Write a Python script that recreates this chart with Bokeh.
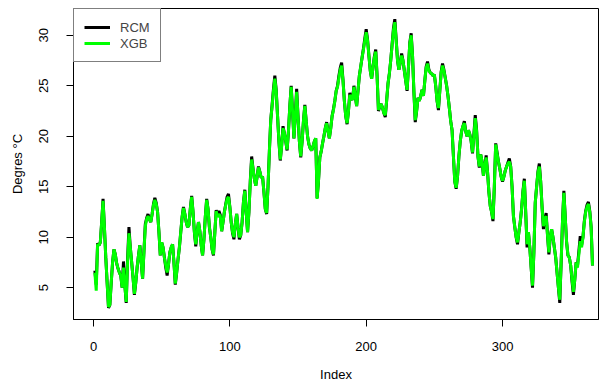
from bokeh.plotting import figure
from bokeh.models import Legend, LegendItem, FixedTicker, Range1d, ColumnDataSource
from bokeh.embed import file_html
from bokeh.resources import INLINE

# ---- data ----
index = list(range(1, 367))

xgb = [
    6.5, 4.7, 9.3, 9.2, 9.5, 11.5, 13.6, 11.0, 8.0, 5.5,
    3.1, 3.3, 5.5, 7.5, 8.8, 8.3, 7.4, 6.9, 6.5, 6.2,
    5.0, 7.0, 5.2, 3.6, 7.5, 10.4, 9.0, 7.5, 6.0, 4.4,
    5.5, 7.0, 8.2, 9.2, 7.5, 5.9, 8.5, 11.1, 11.8, 12.1,
    11.8, 11.5, 12.3, 13.2, 13.7, 13.3, 12.5, 10.5, 8.2, 9.5,
    9.0, 8.0, 7.2, 6.5, 7.3, 8.5, 9.0, 9.3, 7.5, 5.4,
    6.5, 7.8, 9.0, 10.5, 12.0, 12.9, 12.3, 11.5, 11.0, 11.2,
    12.8, 14.0, 12.5, 10.5, 9.3, 10.5, 11.5, 10.6, 9.2, 8.2,
    9.8, 12.0, 13.7, 12.8, 11.0, 10.0, 8.8, 8.3, 10.5, 12.6,
    12.0, 12.3, 12.1, 10.6, 11.5, 12.5, 13.2, 13.8, 14.0, 13.0,
    11.5, 10.5, 10.0, 11.3, 12.3, 11.0, 10.0, 10.2, 11.5, 13.5,
    14.6, 12.5, 10.5, 12.5, 15.5, 17.7, 16.8, 15.8, 15.1, 16.0,
    16.9, 16.5, 15.9, 16.0, 14.5, 12.8, 12.4, 15.0, 18.5, 21.6,
    23.0, 24.5, 25.7, 24.5, 22.0, 19.5, 17.7, 19.0, 20.8, 20.3,
    19.5, 18.7, 20.5, 23.0, 24.9, 22.5, 19.8, 22.0, 24.4, 22.0,
    19.5, 18.0, 19.5, 21.5, 23.0, 21.5, 20.0, 19.2, 18.8, 18.6,
    19.0, 19.5, 19.8, 13.8, 15.5, 17.9, 18.5, 19.3, 20.0, 20.8,
    21.3, 20.5, 19.8, 20.8, 22.0, 22.6, 23.5, 24.5, 24.9, 25.8,
    26.6, 27.0, 25.5, 23.5, 22.0, 21.3, 22.5, 24.1, 23.8, 23.6,
    24.9, 24.0, 23.0, 24.5, 26.0, 26.9, 27.8, 28.6, 29.5, 30.3,
    29.5, 28.0, 26.5, 25.7, 26.8, 27.8, 28.4, 26.0, 22.6, 23.0,
    23.2, 22.8, 22.3, 22.1, 23.5, 25.2, 26.2, 27.5, 29.0, 30.5,
    31.3, 29.5, 27.5, 26.6, 27.3, 28.0, 27.5, 26.5, 25.5, 24.6,
    26.8, 29.2, 30.0, 28.0, 24.5, 21.6, 22.5, 23.8, 23.5, 24.0,
    24.6, 24.0, 25.5, 26.8, 27.2, 26.5, 26.3, 26.2, 26.0, 26.1,
    25.0, 23.5, 22.8, 24.5, 26.3, 27.0, 26.5, 25.8, 25.0, 24.0,
    22.8, 21.5, 20.6, 18.0, 15.5, 14.9, 16.0, 18.0, 19.5, 20.5,
    21.0, 21.3, 20.5, 20.0, 20.6, 20.2, 19.5, 18.4, 20.0, 21.8,
    20.5, 18.0, 17.0, 18.2, 17.5, 16.1, 17.0, 17.9, 16.5, 14.5,
    13.1, 12.5, 11.8, 15.0, 19.2, 18.3, 17.5, 16.8, 16.0, 15.6,
    16.0, 16.6, 17.0, 17.3, 17.5, 17.0, 15.0, 12.1, 11.0, 10.0,
    9.5, 10.5, 11.5, 12.8, 14.5, 15.6, 12.5, 9.3, 10.5, 9.0,
    7.0, 5.2, 8.5, 13.4, 15.0, 16.4, 17.0, 15.5, 13.0, 11.1,
    11.8, 12.1, 10.2, 8.5, 10.0, 10.8, 10.0, 9.0, 8.0, 6.5,
    5.0, 3.8, 7.5, 11.5, 14.4, 12.0, 9.5, 8.2, 8.0, 7.2,
    5.8, 4.6, 5.8, 7.5, 7.0, 8.3, 9.6, 9.0, 10.0, 11.5,
    12.5, 13.0, 13.3, 12.5, 11.0, 7.2,
]

rcm = [
    6.7, 5.3, 9.4, 9.2, 9.5, 11.5, 13.8, 11.0, 8.0, 5.5,
    3.0, 3.3, 5.5, 7.5, 8.8, 8.3, 7.4, 6.9, 6.5, 6.2,
    5.0, 7.6, 5.2, 3.5, 7.8, 11.0, 9.0, 7.5, 6.0, 4.3,
    5.5, 7.0, 8.2, 9.2, 7.5, 5.9, 8.6, 11.3, 11.9, 12.3,
    11.8, 11.5, 12.3, 13.3, 13.9, 13.4, 12.5, 10.5, 8.2, 9.5,
    9.0, 8.0, 7.0, 6.2, 7.3, 8.5, 9.0, 9.3, 7.5, 5.3,
    6.5, 7.8, 9.0, 10.5, 12.0, 13.0, 12.3, 11.5, 11.0, 11.2,
    12.8, 14.1, 12.5, 10.5, 9.1, 10.5, 11.5, 10.6, 9.2, 8.2,
    9.8, 12.0, 13.8, 12.8, 11.0, 10.0, 8.8, 8.2, 10.5, 12.7,
    12.1, 12.6, 12.2, 10.6, 11.5, 12.5, 13.3, 14.0, 14.3, 13.0,
    11.5, 10.4, 9.8, 11.3, 12.3, 11.0, 9.8, 10.2, 11.5, 13.5,
    14.7, 12.5, 10.5, 12.5, 15.6, 18.0, 16.8, 15.8, 15.1, 16.0,
    17.0, 16.5, 15.9, 16.0, 14.5, 12.8, 12.3, 15.0, 18.5, 21.6,
    23.1, 24.7, 26.0, 24.6, 22.0, 19.5, 17.6, 19.1, 21.0, 20.3,
    19.5, 18.6, 20.5, 23.0, 25.0, 22.5, 19.8, 22.1, 24.7, 22.0,
    19.5, 17.9, 19.5, 21.5, 23.1, 21.5, 20.0, 19.2, 18.8, 18.6,
    19.0, 19.5, 19.8, 13.9, 15.5, 17.9, 18.5, 19.3, 20.0, 20.8,
    21.4, 20.5, 19.8, 20.8, 22.0, 22.7, 23.5, 24.5, 25.0, 26.0,
    26.8, 27.3, 25.6, 23.5, 22.0, 21.2, 22.5, 24.3, 23.8, 23.6,
    25.0, 24.0, 23.0, 24.5, 26.0, 26.9, 27.8, 28.7, 29.7, 30.6,
    29.6, 28.0, 26.5, 25.7, 26.8, 27.9, 28.6, 26.0, 22.5, 23.0,
    23.2, 22.8, 22.3, 21.9, 23.5, 25.2, 26.2, 27.5, 29.1, 30.7,
    31.6, 29.6, 27.5, 26.6, 27.3, 28.2, 27.5, 26.5, 25.5, 24.5,
    26.8, 29.3, 30.2, 28.0, 24.4, 21.4, 22.5, 23.8, 23.5, 24.0,
    24.6, 24.0, 25.5, 26.9, 27.4, 26.6, 26.3, 26.2, 26.0, 26.1,
    25.0, 23.5, 22.6, 24.5, 26.4, 27.2, 26.6, 25.8, 25.0, 24.0,
    22.8, 21.5, 20.6, 18.0, 15.5, 14.8, 16.0, 18.0, 19.5, 20.5,
    21.0, 21.5, 20.5, 20.0, 20.6, 20.2, 19.5, 18.3, 20.2, 22.1,
    20.6, 18.0, 16.9, 18.2, 17.5, 16.1, 17.0, 18.1, 16.5, 14.5,
    13.1, 12.5, 11.6, 15.0, 19.3, 18.4, 17.5, 16.8, 16.0, 15.5,
    16.0, 16.6, 17.0, 17.4, 17.8, 17.0, 15.0, 12.1, 11.0, 10.0,
    9.3, 10.5, 11.5, 12.8, 14.6, 15.8, 12.5, 9.0, 10.5, 9.0,
    7.0, 5.0, 8.5, 13.4, 15.0, 16.5, 17.3, 15.5, 13.0, 10.8,
    11.8, 12.4, 10.2, 8.3, 10.0, 10.8, 10.0, 9.0, 8.0, 6.5,
    5.0, 3.5, 7.5, 11.6, 14.6, 12.0, 9.5, 8.2, 8.0, 7.2,
    5.6, 4.3, 5.8, 7.5, 7.2, 8.6, 10.1, 9.2, 10.0, 11.6,
    12.6, 13.2, 13.5, 12.6, 11.0, 7.2,
]

x_ticks = [0, 100, 200, 300]
y_ticks = [5, 10, 15, 20, 25, 30]
series_names = ["RCM", "XGB"]
series_colors = ["#000000", "#00FF00"]

FONT = "Liberation Sans"

src = ColumnDataSource(data=dict(index=index, rcm=rcm, xgb=xgb))

p = figure(
    width=611, height=384,
    output_backend="svg", toolbar_location=None,
    x_range=Range1d(-14.67, 370.4), y_range=Range1d(1.85, 32.66),
    min_border_left=73, min_border_right=13, min_border_top=8, min_border_bottom=63,
    background_fill_color="white", border_fill_color="white",
)
p.grid.visible = False
p.outline_line_color = "black"
p.outline_line_width = 1

r1 = p.line("index", "rcm", source=src, line_color=series_colors[0], line_width=3)
r2 = p.line("index", "xgb", source=src, line_color=series_colors[1], line_width=3)

for ax in (p.xaxis[0], p.yaxis[0]):
    ax.minor_tick_line_color = None
    ax.major_tick_in = 0
    ax.major_tick_out = 7
    ax.axis_line_color = "black"
    ax.major_tick_line_color = "black"
    ax.major_label_text_font = FONT
    ax.major_label_text_font_size = "13px"
    ax.major_label_text_color = "black"
    ax.axis_label_text_font = FONT
    ax.axis_label_text_font_size = "13px"
    ax.axis_label_text_font_style = "normal"
    ax.axis_label_text_color = "black"

p.xaxis.ticker = FixedTicker(ticks=x_ticks)
p.yaxis.ticker = FixedTicker(ticks=y_ticks)
p.xaxis.axis_label = "Index"
p.yaxis.axis_label = "Degres °C"
p.xaxis.major_label_standoff = 15
p.xaxis.axis_label_standoff = 13
p.yaxis.major_label_orientation = "vertical"
p.yaxis.major_label_standoff = 18
p.yaxis.axis_label_standoff = 12

legend = Legend(
    items=[LegendItem(label=series_names[0], renderers=[r1]),
           LegendItem(label=series_names[1], renderers=[r2])],
    location="top_left", margin=0, padding=10, spacing=0,
    glyph_width=26, glyph_height=16, label_height=16, label_standoff=10,
    label_text_font=FONT, label_text_font_size="13px",
    border_line_color="black", border_line_width=1,
    background_fill_color="white", background_fill_alpha=1.0,
)
p.add_layout(legend)

open("out.html", "w").write(file_html(p, INLINE))
